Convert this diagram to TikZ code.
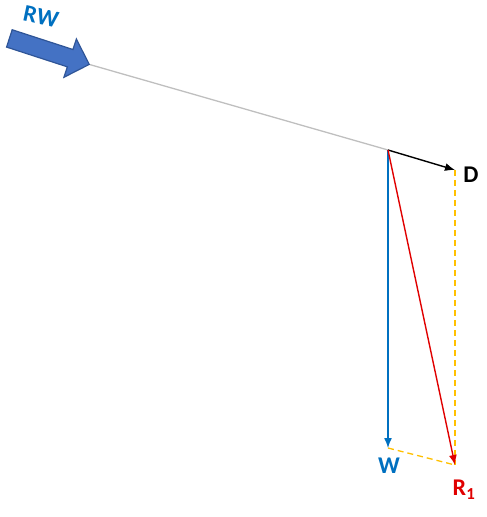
\documentclass[tikz,border=0pt]{standalone}
\usepackage{fontspec}
\setmainfont{Carlito}
\usetikzlibrary{arrows.meta,shapes.arrows}
\definecolor{vblue}{HTML}{0070C0}
\definecolor{vred}{HTML}{E00000}
\definecolor{vyellow}{HTML}{FFC000}
\definecolor{bfill}{HTML}{4472C4}
\definecolor{bdraw}{HTML}{2F5597}
\tikzset{
	vec/.style={line width=1.4pt,-{Latex[length=10pt,width=8pt]}},
	helper/.style={vyellow,line width=1.3pt,dash pattern=on 6pt off 4pt},
	lbl/.style={font=\fontsize{24}{24}\selectfont\bfseries,inner sep=0pt}
}
\begin{document}
\begin{tikzpicture}[x=1pt,y=-1pt]
	\useasboundingbox (0,0) rectangle (487,517);
	% wind arrow and line of flight
	\node[single arrow,draw=bdraw,fill=bfill,line width=1.2pt,inner sep=8.5pt,
		single arrow head extend=11pt,single arrow head indent=0pt,
		minimum height=84pt,rotate=-18] (rw) at (45,50) {};
	\node[lbl,vblue,rotate=-12] (rwl) at (41,17) {RW};
	\coordinate (o) at (388,150);
	\draw[black!25,line width=1.3pt] (rw.tip) -- (o);
	% vector ends
	\coordinate (d) at (455,170);
	\coordinate (w) at (388,448);
	\coordinate (r) at (455,465);
	\draw[helper] (d) -- (r);
	\draw[helper] (w) -- (r);
	\draw[vec,black] (o) -- (d);
	\draw[vec,vblue] (o) -- (w);
	\draw[vec,vred] (o) -- (r);
	\node[lbl] (dl) at (471,175) {D};
	\node[lbl,vblue] (wl) at (389,466) {W};
	\node[lbl,vred] (rl) at (464,490) {R\textsubscript{1}};
\end{tikzpicture}
\end{document}
